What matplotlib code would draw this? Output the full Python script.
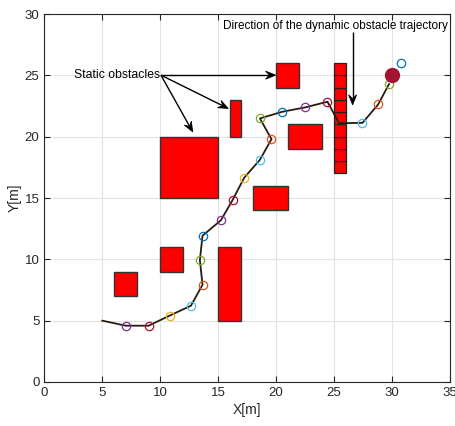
import matplotlib
matplotlib.use("Agg")
import matplotlib.pyplot as plt
from matplotlib.patches import Rectangle, Polygon
import numpy as np

plt.rcParams['font.family'] = ['Liberation Sans', 'DejaVu Sans']

# Static obstacles: (x, y, width, height)
static_obstacles = [
    (6, 7, 2, 2),
    (10, 9, 2, 2),
    (15, 5, 2, 6),
    (10, 15, 5, 5),
    (16, 20, 1, 3),
    (18, 14, 3, 2),
    (21, 19, 3, 2),
    (20, 24, 2, 2),
]

# Dynamic obstacle positions along its trajectory (unit cells)
dynamic_x = 25
dynamic_y = [17, 18, 19, 20, 21, 22, 23, 24, 25]

# Planned path
path_x = [5, 7.04, 9.0, 10.81, 12.65, 13.65, 13.42, 13.65, 15.23, 16.24, 17.24,
          18.6, 19.6, 18.6, 20.52, 22.5, 24.43, 25.43, 27.45, 28.8, 29.74]
path_y = [5, 4.59, 4.59, 5.41, 6.22, 7.93, 9.94, 11.93, 13.18, 14.83, 16.65,
          18.12, 19.8, 21.49, 22.03, 22.39, 22.85, 21.1, 21.13, 22.63, 24.29]

# Sample points along the path
sample_x = [7.04, 9.0, 10.81, 12.65, 13.65, 13.42, 13.65, 15.23, 16.24, 17.24,
            18.6, 19.6, 18.6, 20.52, 22.5, 24.43, 27.45, 28.8, 29.74, 30.75]
sample_y = [4.59, 4.59, 5.41, 6.22, 7.93, 9.94, 11.93, 13.18, 14.83, 16.65,
            18.12, 19.8, 21.49, 22.03, 22.39, 22.85, 21.13, 22.63, 24.29, 25.97]

goal_x, goal_y = 30, 25

# MATLAB-style colour order
c_blue = (0, 0.447, 0.741)
c_orange = (0.85, 0.325, 0.098)
c_yellow = (0.929, 0.694, 0.125)
c_purple = (0.494, 0.184, 0.556)
c_green = (0.466, 0.674, 0.188)
c_cyan = (0.301, 0.745, 0.933)
c_dred = (0.635, 0.078, 0.184)
cycle = [c_purple, c_dred, c_yellow, c_cyan, c_orange, c_green, c_blue]
sample_colors = [cycle[i % 7] for i in range(16)] + [c_cyan, c_orange, c_green, c_blue]

fig = plt.figure(figsize=(4.55, 4.26), dpi=100)
ax = fig.add_axes([0.0974, 0.1033, 0.8916, 0.8637])

for (x, y, w, h) in static_obstacles:
    ax.add_patch(Rectangle((x, y), w, h, facecolor='#ff0000',
                           edgecolor='#333333', linewidth=1.0, zorder=2))
for y in dynamic_y:
    ax.add_patch(Rectangle((dynamic_x, y), 1, 1, facecolor='#ff0000',
                           edgecolor='#222222', linewidth=0.9, zorder=2))

ax.plot(path_x, path_y, color='#2a1a10', linewidth=1.3, zorder=3)
for x, y, c in zip(sample_x, sample_y, sample_colors):
    ax.plot(x, y, 'o', markerfacecolor='none', markeredgecolor=c,
            markersize=6, markeredgewidth=0.9, zorder=4)
ax.plot(goal_x, goal_y, 'o', color=c_dred, markersize=10, zorder=5)

ax.set_xlim(0, 35)
ax.set_ylim(0, 30)
fig.canvas.draw()


def stealth_arrow(start, end, length=10.0, width=8.0):
    """Line with a concave-backed (vback2-style) head, sized in pixels."""
    to_px = ax.transData
    p0 = np.array(to_px.transform(start))
    p1 = np.array(to_px.transform(end))
    d = p1 - p0
    u = d / np.hypot(*d)
    n = np.array([-u[1], u[0]])
    back = p1 - u * length
    notch = p1 - u * length * 0.6
    head_px = [p1, back + n * width / 2, notch, back - n * width / 2]
    inv = to_px.inverted()
    head = inv.transform(head_px)
    line_end = inv.transform([notch])[0]
    ax.plot([start[0], line_end[0]], [start[1], line_end[1]], color='black',
            linewidth=1.0, zorder=6, solid_capstyle='butt')
    ax.add_patch(Polygon(head, closed=True, facecolor='black',
                         edgecolor='black', linewidth=0.6, zorder=6))


# Annotations
label_xy = (10.06, 25.02)
for target in [(19.95, 25.02), (15.87, 22.3), (12.8, 20.4)]:
    stealth_arrow(label_xy, target)
ax.text(10.0, 25.02, 'Static obstacles', ha='right', va='center', fontsize=8.8, zorder=6)

ax.text(34.8, 29.0, 'Direction of the dynamic obstacle trajectory',
        ha='right', va='center', fontsize=8.5, zorder=6)
stealth_arrow((26.6, 28.5), (26.6, 22.6))

ax.set_xticks(range(0, 36, 5))
ax.set_yticks(range(0, 31, 5))
ax.grid(True, color='#e3e3e3', linewidth=0.8)
ax.set_axisbelow(True)
ax.tick_params(direction='in', top=True, right=True, labelsize=9.5,
               colors='#262626', length=4)
for s in ax.spines.values():
    s.set_color('#262626')
    s.set_linewidth(0.8)
ax.set_xlabel('X[m]', fontsize=10, color='#262626', labelpad=3)
ax.set_ylabel('Y[m]', fontsize=10, color='#262626', labelpad=2)

fig.savefig('out.png', dpi=100)
